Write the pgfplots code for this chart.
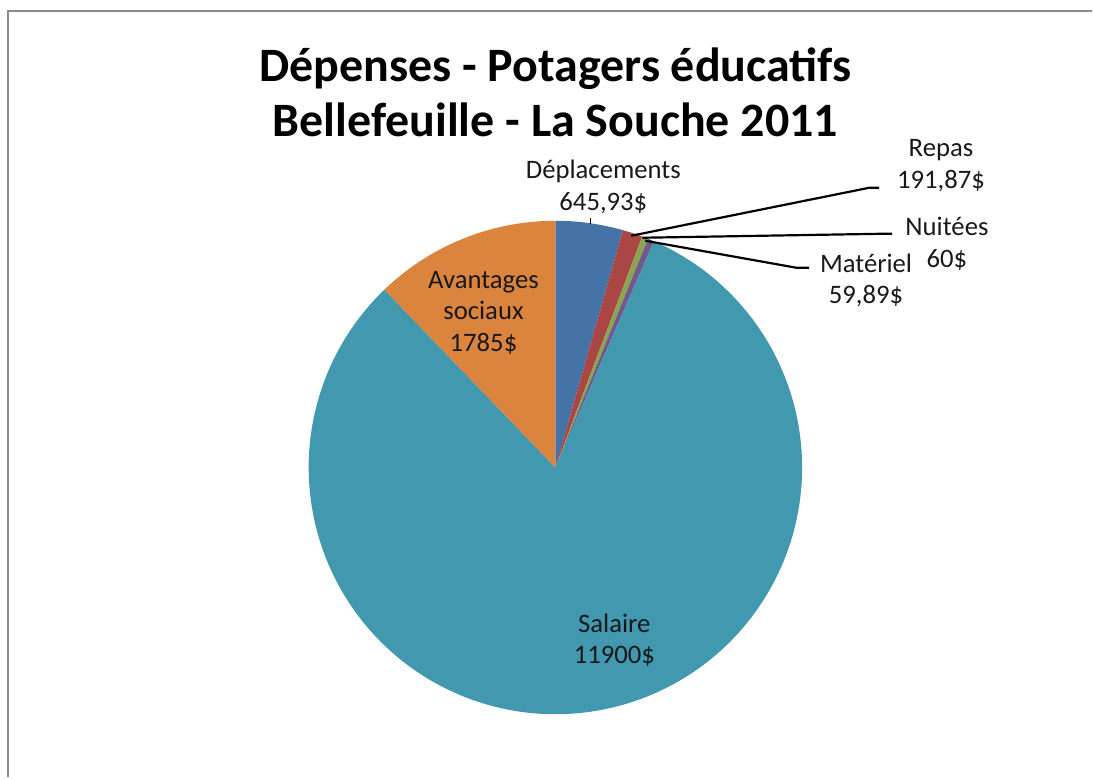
\documentclass[border=0pt]{standalone}
\usepackage{pgfplots}
\usepackage{pgfplotstable}
\pgfplotsset{compat=1.18}
\usepackage{fontspec}
\setmainfont{Carlito}
\definecolor{cBlue}{HTML}{4572A7}
\definecolor{cRed}{HTML}{AA4643}
\definecolor{cGreen}{HTML}{89A54E}
\definecolor{cPurple}{HTML}{71588F}
\definecolor{cTeal}{HTML}{4198AF}
\definecolor{cOrange}{HTML}{DB843D}
\definecolor{cBorder}{HTML}{8C8C8C}

\pgfplotstableread{
label value
Deplacements 645.93
Repas 191.87
Nuitees 60
Materiel 59.89
Salaire 11900
Avantages 1785
}\piedata

\begin{document}
\begin{tikzpicture}
% total of the values
\def\total{0}
\pgfplotsforeachungrouped \i in {0,...,5}{%
  \pgfplotstablegetelem{\i}{value}\of\piedata
  \pgfmathsetmacro\total{\total+\pgfplotsretval}%
}
\def\run{0}
\def\computeslice#1#2{%
  \pgfplotstablegetelem{#1}{value}\of\piedata
  \pgfmathsetmacro\tmpA{90-360*(\run/\total)}%
  \pgfmathsetmacro\run{\run+\pgfplotsretval}%
  \pgfmathsetmacro\tmpB{90-360*(\run/\total)}%
  \expandafter\xdef\csname hi#2\endcsname{\tmpA}%
  \expandafter\xdef\csname lo#2\endcsname{\tmpB}%
}
\computeslice{0}{A}\computeslice{1}{B}\computeslice{2}{C}%
\computeslice{3}{D}\computeslice{4}{E}\computeslice{5}{F}%
\def\cx{556}\def\cy{468}\def\R{247}
\begin{axis}[
  x=1pt, y=1pt, y dir=reverse,
  xmin=0, xmax=1093, ymin=0, ymax=778,
  hide axis, clip=false,
  every axis plot/.append style={draw=none, samples=120, variable=\t},
]
\path (axis cs:0,0) rectangle (axis cs:1093,778);
\addplot[fill=cBlue, domain=\loA:\hiA] ({\cx+\R*cos(t)},{\cy-\R*sin(t)}) -- (axis cs:\cx,\cy) -- cycle;
\addplot[fill=cRed, domain=\loB:\hiB] ({\cx+\R*cos(t)},{\cy-\R*sin(t)}) -- (axis cs:\cx,\cy) -- cycle;
\addplot[fill=cGreen, domain=\loC:\hiC] ({\cx+\R*cos(t)},{\cy-\R*sin(t)}) -- (axis cs:\cx,\cy) -- cycle;
\addplot[fill=cPurple, domain=\loD:\hiD] ({\cx+\R*cos(t)},{\cy-\R*sin(t)}) -- (axis cs:\cx,\cy) -- cycle;
\addplot[fill=cTeal, domain=\loE:\hiE, samples=300] ({\cx+\R*cos(t)},{\cy-\R*sin(t)}) -- (axis cs:\cx,\cy) -- cycle;
\addplot[fill=cOrange, domain=\loF:\hiF] ({\cx+\R*cos(t)},{\cy-\R*sin(t)}) -- (axis cs:\cx,\cy) -- cycle;

% border
\addplot[draw=cBorder, line width=2.4pt] coordinates {(8,778) (8,11) (1093,11)};

% leader lines
\addplot[draw=black, line width=2.2pt] coordinates {(632,236) (870,188) (880,188)};
\addplot[draw=black, line width=2.2pt] coordinates {(643,238) (884,234) (893,234)};
\addplot[draw=black, line width=2.2pt] coordinates {(646,241) (797,268) (810,268)};
\addplot[draw=black, line width=1.6pt] coordinates {(591,218) (591,224)};

% title
\node[font=\fontsize{48}{55}\selectfont\bfseries, align=center, anchor=center]
  at (axis cs:556,92) {Dépenses - Potagers éducatifs\\Bellefeuille - La Souche 2011};

% labels
\tikzset{lab/.style={font=\fontsize{26.7}{31.5}\selectfont, align=center, anchor=center, text=black!90}}
\node[lab] at (axis cs:604,187) {Déplacements\\645,93\$};
\node[lab] at (axis cs:942,166) {Repas\\191,87\$};
\node[lab] at (axis cs:948,244) {Nuitées\\60\$};
\node[lab] at (axis cs:867,281) {Matériel\\59,89\$};
\node[lab] at (axis cs:484,313) {Avantages\\sociaux\\1785\$};
\node[lab] at (axis cs:615,641) {Salaire\\11900\$};
\end{axis}
\end{tikzpicture}
\end{document}
